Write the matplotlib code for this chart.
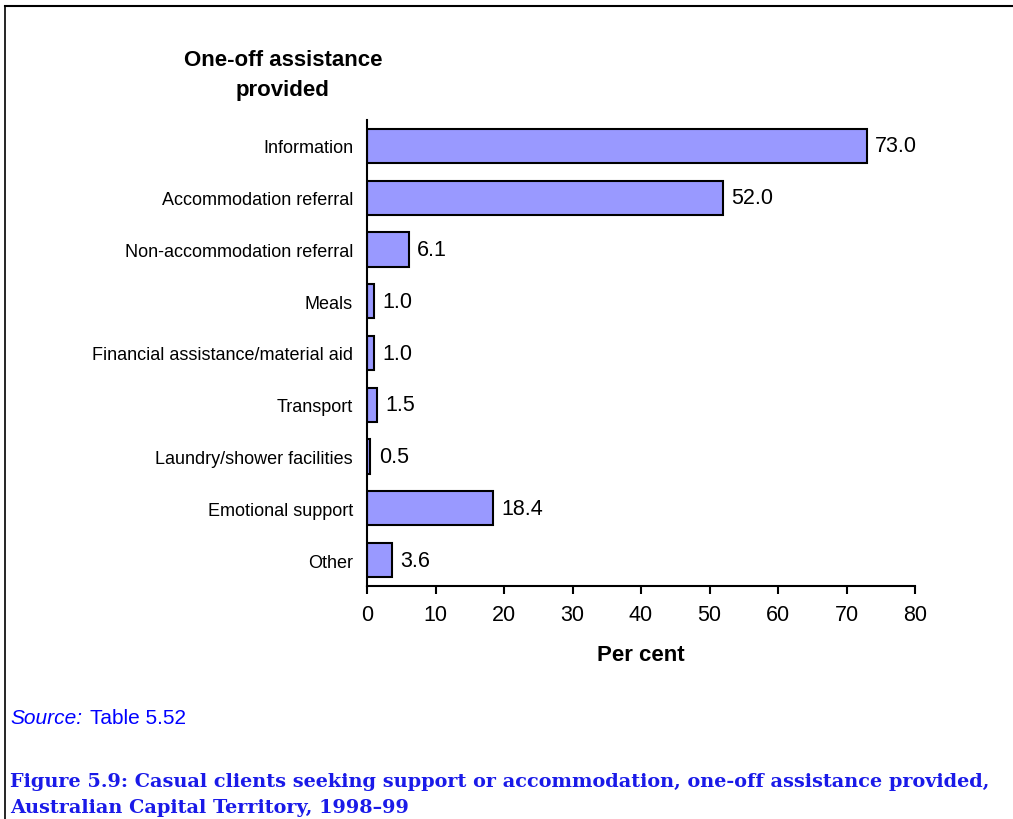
import matplotlib
matplotlib.use("Agg")
import matplotlib.pyplot as plt
from matplotlib.lines import Line2D

categories = ["Information", "Accommodation referral", "Non-accommodation referral",
              "Meals", "Financial assistance/material aid", "Transport",
              "Laundry/shower facilities", "Emotional support", "Other"]
values = [73.0, 52.0, 6.1, 1.0, 1.0, 1.5, 0.5, 18.4, 3.6]
xticks = [0, 10, 20, 30, 40, 50, 60, 70, 80]

plt.rcParams['font.family'] = ['Liberation Sans', 'DejaVu Sans']

W, H = 1013, 820
fig = plt.figure(figsize=(W/100, H/100), dpi=100)
ax = fig.add_axes([367/W, 1-587/H, (915-367)/W, (587-121)/H])

ypos = list(range(len(categories)))
ax.barh(ypos, values, height=0.66, color="#9999FF", edgecolor="black", linewidth=1.5)
ax.set_ylim(len(categories)-0.5, -0.5)
ax.set_xlim(0, 80)
ax.set_xticks(xticks)
ax.set_xticklabels([str(t) for t in xticks], fontsize=15.5)
ax.set_yticks(ypos)
ax.set_yticklabels(categories, fontsize=13)
ax.tick_params(axis='y', length=0, pad=10)
ax.tick_params(axis='x', direction='out', length=6, width=1.5, pad=7)
for s in ['top', 'right']:
    ax.spines[s].set_visible(False)
for s in ['left', 'bottom']:
    ax.spines[s].set_linewidth(1.5)

for y, v in zip(ypos, values):
    ax.text(v + 1.2, y, f"{v:.1f}", va='center', ha='left', fontsize=15.5)

ax.set_xlabel("Per cent", fontsize=16, fontweight='bold', labelpad=14)

fig.text(283/W, 1-75.5/H, "One-off assistance\nprovided", ha='center', va='center',
         fontsize=16, fontweight='bold', linespacing=1.55)

# frame lines
fig.add_artist(Line2D([5/W, 1], [1-7/H, 1-7/H], color='black', lw=1.5, transform=fig.transFigure))
fig.add_artist(Line2D([5/W, 5/W], [0, 1-7/H], color='black', lw=1.2, transform=fig.transFigure))

blue = "#0000FF"
fig.text(10/W, 1-719/H, "Source:", fontsize=15, style='italic', color=blue, va='center', ha='left')
fig.text(90/W, 1-719/H, "Table 5.52", fontsize=15, color=blue, va='center', ha='left')

cap_color = "#1A1AE8"
c1 = fig.text(10/W, 1-782/H, "Figure 5.9: Casual clients seeking support or accommodation, one-off assistance provided,",
              fontsize=15, fontweight='bold', color=cap_color, family=['DejaVu Serif'], va='center', ha='left')
c2 = fig.text(10/W, 1-808/H, "Australian Capital Territory, 1998–99",
              fontsize=15, fontweight='bold', color=cap_color, family=['DejaVu Serif'], va='center', ha='left')
# fit caption width to about 983 px
fig.canvas.draw()
r = fig.canvas.get_renderer()
w = c1.get_window_extent(r).width
fs = 15 * 983 / w
c1.set_fontsize(fs)
c2.set_fontsize(fs)

fig.savefig("out.png", dpi=100)
